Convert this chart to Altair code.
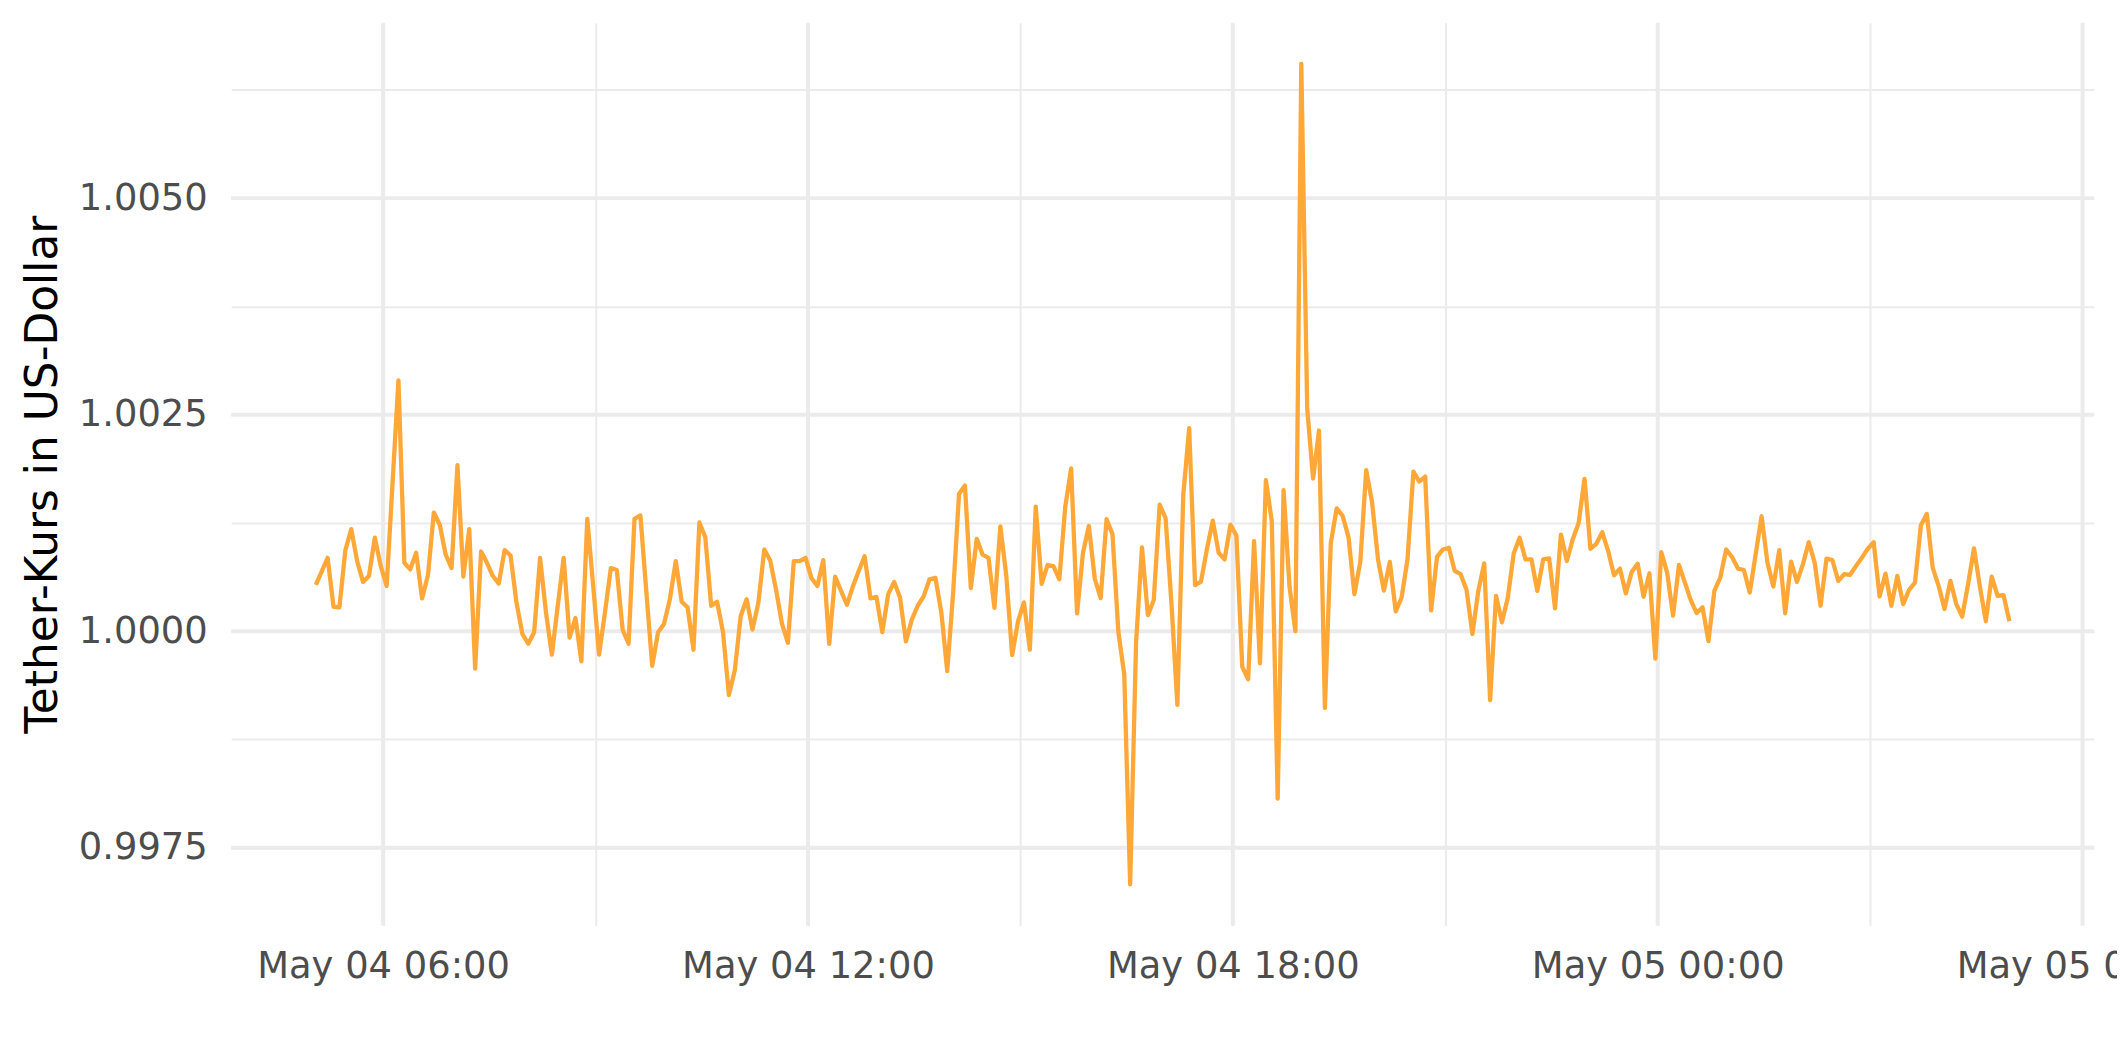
import altair as alt
import pandas as pd

# Tether (USDT) price in US dollars, 5-minute steps
start_time = "2024-05-04 05:03"
step_minutes = 5
tether_price = [
    1.000534, 1.000691, 1.000847, 1.000282, 1.000275, 1.000935, 1.001179, 1.000809, 1.000569, 1.000637,
    1.001080, 1.000752, 1.000523, 1.001710, 1.002897, 1.000790, 1.000714, 1.000905, 1.000378, 1.000645,
    1.001370, 1.001229, 1.000886, 1.000729, 1.001916, 1.000630, 1.001179, 0.999569, 1.000920, 1.000790,
    1.000637, 1.000550, 1.000935, 1.000874, 1.000332, 0.999969, 0.999855, 0.999989, 1.000847, 1.000218,
    0.999729, 1.000294, 1.000847, 0.999927, 1.000153, 0.999653, 1.001298, 1.000523, 0.999729, 1.000218,
    1.000729, 1.000706, 1.000015, 0.999855, 1.001298, 1.001336, 1.000466, 0.999599, 0.999989, 1.000084,
    1.000370, 1.000809, 1.000340, 1.000275, 0.999786, 1.001256, 1.001084, 1.000294, 1.000340, 0.999989,
    0.999263, 0.999550, 1.000172, 1.000370, 1.000019, 1.000332, 1.000943, 1.000817, 1.000477, 1.000084,
    0.999866, 1.000809, 1.000809, 1.000847, 1.000611, 1.000523, 1.000821, 0.999855, 1.000630, 1.000466,
    1.000305, 1.000515, 1.000695, 1.000866, 1.000378, 1.000397, 0.999989, 1.000428, 1.000569, 1.000389,
    0.999882, 1.000134, 1.000294, 1.000402, 1.000599, 1.000616, 1.000218, 0.999540, 1.000443, 1.001585,
    1.001683, 1.000497, 1.001067, 1.000883, 1.000846, 1.000271, 1.001211, 1.000649, 0.999725, 1.000115,
    1.000333, 0.999787, 1.001437, 1.000546, 1.000764, 1.000751, 1.000599, 1.001437, 1.001880, 1.000205,
    1.000903, 1.001215, 1.000608, 1.000382, 1.001293, 1.001121, 0.999992, 0.999499, 0.997077, 0.999869,
    1.000969, 1.000185, 1.000361, 1.001461, 1.001305, 1.000320, 0.999150, 1.001573, 1.002345, 1.000532,
    1.000572, 1.000944, 1.001276, 1.000904, 1.000829, 1.001230, 1.001104, 0.999588, 0.999445, 1.001041,
    0.999628, 1.001745, 1.001270, 0.998066, 1.001630, 1.000515, 1.000000, 1.006550, 1.002574, 1.001762,
    1.002317, 0.999113, 1.001018, 1.001419, 1.001333, 1.001087, 1.000429, 1.000801, 1.001859, 1.001487,
    1.000829, 1.000469, 1.000801, 1.000229, 1.000389, 1.000829, 1.001842, 1.001728, 1.001785, 1.000240,
    1.000858, 1.000944, 1.000963, 1.000696, 1.000658, 1.000478, 0.999969, 1.000466, 1.000784, 0.999205,
    1.000409, 1.000103, 1.000390, 1.000898, 1.001078, 1.000830, 1.000830, 1.000466, 1.000830, 1.000841,
    1.000264, 1.001116, 1.000810, 1.001059, 1.001250, 1.001759, 1.000952, 1.001009, 1.001143, 1.000925,
    1.000646, 1.000723, 1.000436, 1.000684, 1.000780, 1.000398, 1.000669, 0.999683, 1.000914, 1.000677,
    1.000180, 1.000765, 1.000562, 1.000359, 1.000210, 1.000275, 0.999885, 1.000466, 1.000619, 1.000944,
    1.000856, 1.000723, 1.000707, 1.000447, 1.000887, 1.001327, 1.000791, 1.000516, 1.000937, 1.000206,
    1.000803, 1.000570, 1.000772, 1.001028, 1.000791, 1.000294, 1.000837, 1.000822, 1.000581, 1.000658,
    1.000650, 1.000753, 1.000849, 1.000952, 1.001028, 1.000401, 1.000665, 1.000294, 1.000638, 1.000313,
    1.000478, 1.000562, 1.001223, 1.001353, 1.000734, 1.000524, 1.000256, 1.000581, 1.000313, 1.000168,
    1.000543, 1.000956, 1.000516, 1.000115, 1.000631, 1.000409, 1.000417, 1.000115,
]

# axis breaks
x_major_ticks = ["2024-05-04 06:00", "2024-05-04 12:00", "2024-05-04 18:00",
                 "2024-05-05 00:00", "2024-05-05 06:00"]
x_minor_ticks = ["2024-05-04 09:00", "2024-05-04 15:00", "2024-05-04 21:00",
                 "2024-05-05 03:00"]
y_major_ticks = [0.9975, 1.0, 1.0025, 1.005]
y_minor_ticks = [0.99875, 1.00125, 1.00375, 1.00625]
y_title = "Tether-Kurs in US-Dollar"

epoch = pd.Timestamp("1970-01-01")


def to_ms(ts):
    return int(round((pd.Timestamp(ts) - epoch).total_seconds() * 1000))


times = pd.date_range(start_time, periods=len(tether_price), freq=f"{step_minutes}min")
df = pd.DataFrame({"zeit": [to_ms(t) for t in times], "kurs": tether_price})

# ggplot-style 5 % expansion of both scales
t_pad = (times[-1] - times[0]) * 0.05
x_domain = [to_ms(times[0] - t_pad), to_ms(times[-1] + t_pad)]
y_lo, y_hi = min(tether_price), max(tether_price)
y_pad = (y_hi - y_lo) * 0.05
y_domain = [y_lo - y_pad, y_hi + y_pad]

x_major_ms = [to_ms(t) for t in x_major_ticks]
x_minor_ms = [to_ms(t) for t in x_minor_ticks]

GRID = "#EBEBEB"
LABEL = "#4D4D4D"
FONT = "DejaVu Sans"

x_axis = alt.Axis(
    title=None,
    values=sorted(x_major_ms + x_minor_ms),
    labelExpr="utchours(datum.value) % 6 == 0 ? utcFormat(datum.value, '%b %d %H:%M') : ''",
    grid=True, gridColor=GRID, gridWidth=2,
    ticks=False, domain=False,
    labelFont=FONT, labelFontSize=37, labelColor=LABEL, labelPadding=23,
    labelFlush=False, labelOverlap=False, labelBound=False, labelLimit=1000,
)

y_axis = alt.Axis(
    title=y_title,
    values=sorted(y_major_ticks + y_minor_ticks),
    labelExpr="abs(datum.value * 400 - round(datum.value * 400)) < 0.001 ? format(datum.value, '.4f') : ''",
    grid=True, gridColor=GRID, gridWidth=2,
    ticks=False, domain=False,
    labelFont=FONT, labelFontSize=37, labelColor=LABEL, labelPadding=24,
    labelOverlap=False, labelBound=False, labelLimit=1000,
    titleFont=FONT, titleFontSize=44, titleFontWeight="normal", titleColor="black",
    titlePadding=13,
)

x_scale = alt.Scale(type="utc", domain=x_domain, nice=False)
y_scale = alt.Scale(domain=y_domain, nice=False, zero=False)

major_x = (
    alt.Chart(pd.DataFrame({"zeit": x_major_ms}))
    .mark_rule(color=GRID, strokeWidth=4)
    .encode(x=alt.X("zeit:T", axis=x_axis, scale=x_scale))
)
major_y = (
    alt.Chart(pd.DataFrame({"kurs": y_major_ticks}))
    .mark_rule(color=GRID, strokeWidth=4)
    .encode(y=alt.Y("kurs:Q", axis=y_axis, scale=y_scale))
)
line = (
    alt.Chart(df)
    .mark_line(color="#FFA737", strokeWidth=4.3, strokeJoin="round")
    .encode(
        x=alt.X("zeit:T", axis=x_axis, scale=x_scale),
        y=alt.Y("kurs:Q", axis=y_axis, scale=y_scale),
    )
)

chart = (
    alt.layer(major_x, major_y, line)
    .properties(
        width=1870,
        height=906,
        autosize=alt.AutoSizeParams(type="none"),
        padding={"left": 224, "top": 13, "right": 23, "bottom": 80},
        background="white",
    )
    .configure_view(strokeWidth=0)
)

chart.save("out.html", embed_options={"renderer": "svg", "actions": False})
